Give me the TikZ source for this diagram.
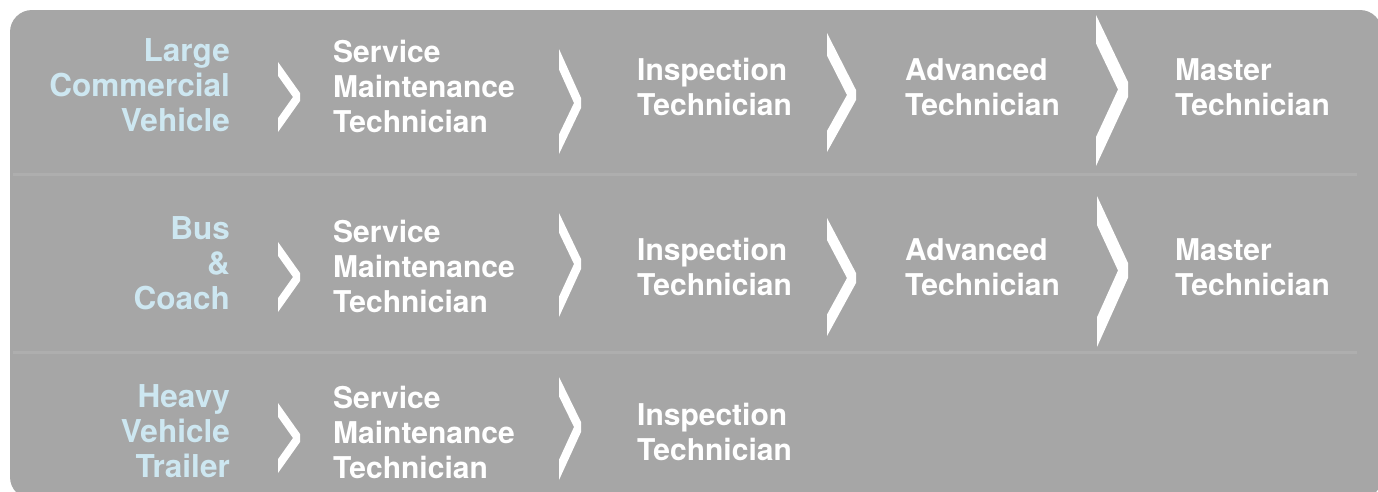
\documentclass[tikz,border=0pt]{standalone}
\usepackage{fontspec}
\setmainfont{TeX Gyre Heros}
\definecolor{bg}{HTML}{A6A6A6}
\definecolor{sepc}{HTML}{AEAEAE}
\definecolor{lbl}{HTML}{CDE7F1}
\tikzset{
  cat/.style={text=lbl, font=\bfseries\fontsize{31.5}{35}\selectfont, align=right, anchor=base east, inner sep=0pt},
  stage/.style={text=white, font=\bfseries\fontsize{30}{35}\selectfont, align=left, anchor=base west, inner sep=0pt},
  chev/.style={fill=white},
  sepline/.style={draw=sepc, line width=3pt}
}
% #1 L, #2 T, #3 R, #4 B, #5 tip top, #6 tip bottom, #7 thickness
\newcommand{\chevshape}[7]{%
  \pgfmathsetmacro{\cvm}{(#5+#6)/2}%
  \pgfmathsetmacro{\cvdT}{\cvm-#2-(#5-#2)*(#3-#7-#1)/(#3-#1)}%
  \pgfmathsetmacro{\cvdB}{#4-\cvm-(#4-#6)*(#3-#7-#1)/(#3-#1)}%
  \fill[chev] (#1,#2) -- (#3,#5) -- (#3,#6) -- (#1,#4) -- (#1,#4-\cvdB)
    -- (#3-#7,\cvm) -- (#1,#2+\cvdT) -- cycle;
}
\begin{document}
\begin{tikzpicture}[x=1pt,y=-1pt]
\useasboundingbox (0,0) rectangle (1378,491);
\clip (0,0) rectangle (1378,491);
\fill[bg, rounded corners=22pt] (10,10) rectangle (1382,499);
\draw[sepline] (13,174) -- (1357,174);
\draw[sepline] (13,352) -- (1357,352);

% row 1 (anchors at baseline of last line)
\node[cat] (l1) at (230,131) {Large\\Commercial\\Vehicle};
\node[stage] (r1s) at (333,132) {Service\\Maintenance\\Technician};
\node[stage] (r1i) at (637,115) {Inspection\\Technician};
\node[stage] (r1a) at (905,115) {Advanced\\Technician};
\node[stage] (r1m) at (1175,115) {Master\\Technician};
\chevshape{278}{62}{300}{132}{93}{101}{7}
\chevshape{559}{49}{581}{154}{98}{108}{7}
\chevshape{827}{33}{856}{152}{90}{100}{9}
\chevshape{1096}{15}{1128}{166}{82}{97}{10}

% row 2
\node[cat] (l2) at (230,309) {Bus\\\&\\Coach};
\node[stage] (r2s) at (333,312) {Service\\Maintenance\\Technician};
\node[stage] (r2i) at (637,295) {Inspection\\Technician};
\node[stage] (r2a) at (905,295) {Advanced\\Technician};
\node[stage] (r2m) at (1175,295) {Master\\Technician};
\chevshape{278}{242}{300}{312}{273}{281}{7}
\chevshape{559}{213}{581}{317}{259}{269}{7}
\chevshape{827}{218}{856}{336}{273}{283}{9}
\chevshape{1097}{196}{1128}{347}{263}{278}{10}

% row 3
\node[cat] (l3) at (230,477) {Heavy\\Vehicle\\Trailer};
\node[stage] (r3s) at (333,478) {Service\\Maintenance\\Technician};
\node[stage] (r3i) at (637,460) {Inspection\\Technician};
\chevshape{278}{403}{300}{473}{434}{442}{7}
\chevshape{559}{377}{581}{480}{422}{432}{7}
\end{tikzpicture}
\end{document}
